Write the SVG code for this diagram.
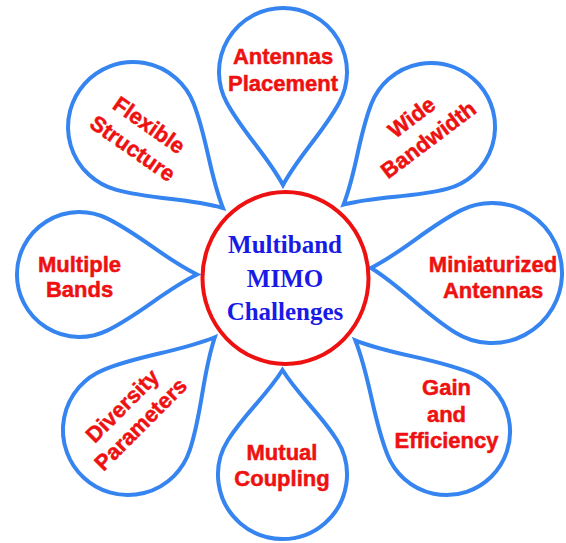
<svg xmlns="http://www.w3.org/2000/svg" width="566" height="543" viewBox="0 0 566 543">
<style>
.petal{fill:#ffffff;stroke:#3584f0;stroke-width:4;stroke-linejoin:miter}
.lbl{font-family:"Liberation Sans",Arial,sans-serif;font-weight:bold;font-size:22px;fill:#ee1111;stroke:#ee1111;stroke-width:0.5;text-anchor:middle}
.ctr{font-family:"Liberation Serif","Times New Roman",serif;font-weight:bold;font-size:25px;fill:#1a1ae6;text-anchor:middle}
</style>
<rect width="566" height="543" fill="#ffffff"/>
<g id="connectors"></g>
<g id="petal-antennas-placement">
<path class="petal" transform="translate(283,72)" d="M0,113 C16.7,82.2 39.6,61.3 56.3,30.5 A64,64 0 1 0 -56.3,30.5 C-39.6,61.3 -16.7,82.2 0,113Z"/>
<text class="lbl" x="283" y="64">Antennas</text>
<text class="lbl" x="283" y="91">Placement</text>
</g>
<g id="petal-wide-bandwidth">
<path class="petal" transform="translate(431,127) rotate(48.4)" d="M0,117 C16.7,84.4 40.2,61.8 56.9,29.2 A64,64 0 1 0 -56.9,29.2 C-40.2,61.8 -16.7,84.4 0,117Z"/>
<g transform="translate(420,128.5) rotate(-37)">
<text class="lbl" x="0" y="-6.5">Wide</text>
<text class="lbl" x="0" y="21.5">Bandwidth</text>
</g>
</g>
<g id="petal-miniaturized-antennas">
<path class="petal" transform="translate(492,273) rotate(92.4)" d="M0,121 C18.2,88.7 42.8,66.6 61,34.3 A70,70 0 1 0 -61,34.3 C-42.8,66.6 -18.2,88.7 0,121Z"/>
<text class="lbl" x="493" y="272">Miniaturized</text>
<text class="lbl" x="493" y="298">Antennas</text>
</g>
<g id="petal-gain-efficiency">
<path class="petal" transform="translate(446.5,431.5) rotate(135)" d="M0,129 C16.6,90.8 41.6,63.5 58.2,25.3 A63.5,63.5 0 1 0 -58.2,25.3 C-41.6,63.5 -16.6,90.8 0,129Z"/>
<text class="lbl" x="446.5" y="395">Gain</text>
<text class="lbl" x="446.5" y="422">and</text>
<text class="lbl" x="446.5" y="448">Efficiency</text>
</g>
<g id="petal-mutual-coupling">
<path class="petal" transform="translate(282.5,474.5) rotate(180)" d="M0,104.5 C16.5,78.2 38.1,60.6 54.6,34.3 A64.5,64.5 0 1 0 -54.6,34.3 C-38.1,60.6 -16.5,78.2 0,104.5Z"/>
<text class="lbl" x="282" y="460">Mutual</text>
<text class="lbl" x="282" y="486">Coupling</text>
</g>
<g id="petal-diversity-parameters">
<path class="petal" transform="translate(128,430) rotate(223.1)" d="M0,127 C17,90.1 42,64.1 59,27.2 A65,65 0 1 0 -59,27.2 C-42,64.1 -17,90.1 0,127Z"/>
<g transform="translate(131.5,415) rotate(-45)">
<text class="lbl" x="0" y="-5.5">Diversity</text>
<text class="lbl" x="0" y="20.5">Parameters</text>
</g>
</g>
<g id="petal-multiple-bands">
<path class="petal" transform="translate(79.5,274.5) rotate(-90)" d="M0,117.5 C16.3,84.2 39.8,60.8 56.1,27.5 A62.5,62.5 0 1 0 -56.1,27.5 C-39.8,60.8 -16.3,84.2 0,117.5Z"/>
<text class="lbl" x="79.5" y="272">Multiple</text>
<text class="lbl" x="79.5" y="297">Bands</text>
</g>
<g id="petal-flexible-structure">
<path class="petal" transform="translate(133,127) rotate(-48)" d="M0,121 C17,86.9 41.2,63.1 58.2,29 A65,65 0 1 0 -58.2,29 C-41.2,63.1 -17,86.9 0,121Z"/>
<g transform="translate(141,136.5) rotate(35)">
<text class="lbl" x="0" y="-6.5">Flexible</text>
<text class="lbl" x="0" y="22">Structure</text>
</g>
</g>
<g id="center">
<ellipse cx="285.5" cy="278" rx="83" ry="86" fill="#ffffff" stroke="#ee1111" stroke-width="4"/>
<text class="ctr" x="285" y="253">Multiband</text>
<text class="ctr" x="285" y="287">MIMO</text>
<text class="ctr" x="285" y="320">Challenges</text>
</g>
</svg>
